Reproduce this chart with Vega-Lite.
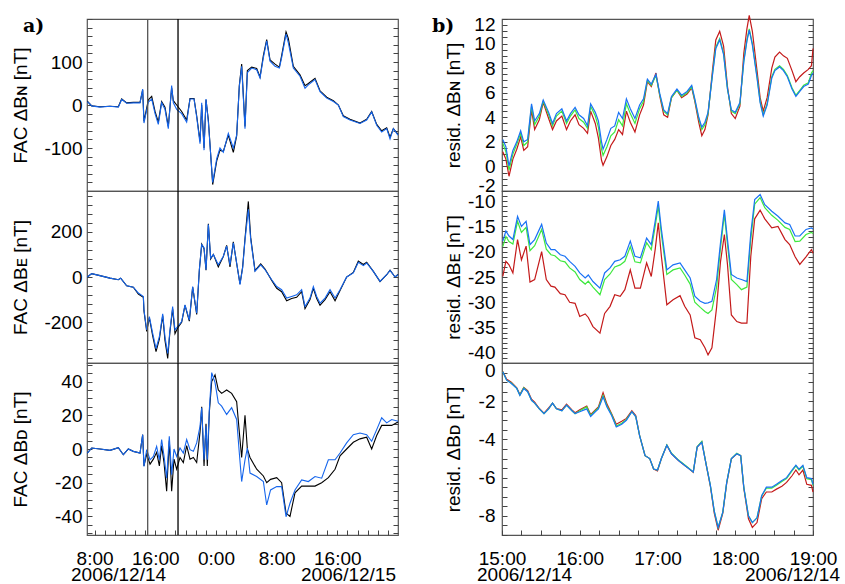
{
  "$schema": "https://vega.github.io/schema/vega-lite/v6.json",
  "background": "white",
  "autosize": {"type": "pad"},
  "padding": {"left": 10, "top": 9, "right": 2, "bottom": 0},
  "config": {
    "font": "Liberation Sans",
    "view": {"stroke": "#555", "strokeWidth": 1.2},
    "axis": {"domain": false, "grid": false, "labelFont": "Liberation Sans", "labelFontSize": 19, "labelColor": "#000", "titleFont": "Liberation Sans", "titleFontSize": 19, "titleFontWeight": "normal", "titleColor": "#000", "tickColor": "#444", "tickSize": -5, "tickWidth": 1, "labelOverlap": false, "labelFlush": false}
  },
  "datasets": {
    "lN": [{"h":7.04,"b":8,"k":9},{"h":7.62,"b":-2,"k":-2},{"h":8.71,"b":-5,"k":-4},{"h":10.03,"b":-3,"k":-3},{"h":11.13,"b":-5,"k":-4},{"h":11.57,"b":13,"k":14},{"h":12.23,"b":4,"k":5},{"h":13.11,"b":5,"k":6},{"h":13.99,"b":5,"k":6},{"h":14.34,"b":37,"k":35},{"h":14.51,"b":-42,"k":-38},{"h":15.09,"b":7,"k":12},{"h":15.53,"b":14,"k":20},{"h":15.97,"b":-20,"k":-15},{"h":16.4,"b":-45,"k":-40},{"h":16.84,"b":5,"k":8},{"h":17.28,"b":-10,"k":-5},{"h":17.72,"b":-55,"k":-50},{"h":18.16,"b":45,"k":40},{"h":18.38,"b":5,"k":10},{"h":18.82,"b":-10,"k":0},{"h":19.48,"b":-20,"k":-15},{"h":20.14,"b":-40,"k":-35},{"h":20.58,"b":14,"k":15},{"h":21.11,"b":14,"k":15},{"h":21.46,"b":-28,"k":-25},{"h":21.9,"b":-90,"k":-85},{"h":22.12,"b":5,"k":0},{"h":22.43,"b":-105,"k":-100},{"h":22.69,"b":14,"k":12},{"h":23.0,"b":-40,"k":-35},{"h":23.57,"b":-180,"k":-185},{"h":24.1,"b":-125,"k":-130},{"h":24.53,"b":-100,"k":-105},{"h":24.97,"b":-110,"k":-108},{"h":25.63,"b":-66,"k":-70},{"h":26.29,"b":-100,"k":-110},{"h":26.73,"b":-70,"k":-72},{"h":27.08,"b":43,"k":45},{"h":27.39,"b":90,"k":95},{"h":27.83,"b":-55,"k":-50},{"h":28.14,"b":75,"k":80},{"h":28.71,"b":86,"k":88},{"h":29.37,"b":82,"k":85},{"h":29.81,"b":63,"k":65},{"h":30.25,"b":110,"k":115},{"h":30.69,"b":149,"k":152},{"h":31.13,"b":102,"k":105},{"h":31.79,"b":90,"k":95},{"h":32.36,"b":86,"k":88},{"h":32.66,"b":110,"k":115},{"h":33.24,"b":165,"k":170},{"h":33.54,"b":145,"k":155},{"h":34.2,"b":86,"k":90},{"h":35.08,"b":67,"k":70},{"h":35.74,"b":39,"k":45},{"h":36.18,"b":47,"k":50},{"h":37.06,"b":59,"k":62},{"h":37.72,"b":31,"k":33},{"h":38.6,"b":16,"k":18},{"h":39.48,"b":8,"k":10},{"h":40.14,"b":0,"k":0},{"h":40.79,"b":-27,"k":-25},{"h":41.67,"b":-35,"k":-33},{"h":42.99,"b":-43,"k":-42},{"h":43.87,"b":-35,"k":-33},{"h":44.53,"b":-16,"k":-15},{"h":45.19,"b":-47,"k":-45},{"h":45.85,"b":-63,"k":-60},{"h":46.51,"b":-55,"k":-53},{"h":46.95,"b":-79,"k":-75},{"h":47.39,"b":-55,"k":-55},{"h":48.0,"b":-70,"k":-68}],
    "lE": [{"h":7.04,"b":0,"k":0},{"h":7.62,"b":15,"k":15},{"h":8.71,"b":6,"k":6},{"h":10.03,"b":-5,"k":-5},{"h":11.13,"b":-12,"k":-12},{"h":11.44,"b":-5,"k":-5},{"h":12.23,"b":-39,"k":-39},{"h":13.11,"b":-45,"k":-45},{"h":13.77,"b":-71,"k":-75},{"h":14.43,"b":-86,"k":-90},{"h":14.51,"b":-145,"k":-150},{"h":14.87,"b":-234,"k":-240},{"h":15.22,"b":-175,"k":-180},{"h":15.66,"b":-249,"k":-260},{"h":16.1,"b":-316,"k":-330},{"h":16.54,"b":-264,"k":-275},{"h":16.98,"b":-163,"k":-170},{"h":17.28,"b":-264,"k":-280},{"h":17.64,"b":-338,"k":-360},{"h":17.94,"b":-234,"k":-240},{"h":18.29,"b":-131,"k":-140},{"h":18.6,"b":-234,"k":-250},{"h":18.95,"b":-219,"k":-225},{"h":19.48,"b":-197,"k":-200},{"h":19.92,"b":-123,"k":-125},{"h":20.49,"b":-190,"k":-195},{"h":20.93,"b":-42,"k":-45},{"h":21.46,"b":-160,"k":-165},{"h":21.81,"b":32,"k":30},{"h":22.12,"b":143,"k":145},{"h":22.43,"b":129,"k":125},{"h":22.69,"b":32,"k":30},{"h":23.0,"b":232,"k":235},{"h":23.3,"b":84,"k":80},{"h":23.66,"b":99,"k":100},{"h":24.31,"b":54,"k":45},{"h":24.97,"b":92,"k":90},{"h":25.41,"b":136,"k":140},{"h":25.85,"b":54,"k":45},{"h":26.29,"b":151,"k":155},{"h":26.73,"b":62,"k":60},{"h":27.17,"b":-34,"k":-30},{"h":27.52,"b":40,"k":45},{"h":27.83,"b":163,"k":170},{"h":28.27,"b":299,"k":334},{"h":28.58,"b":166,"k":175},{"h":29.15,"b":25,"k":28},{"h":29.9,"b":54,"k":58},{"h":30.47,"b":32,"k":35},{"h":31.35,"b":-12,"k":-15},{"h":32.01,"b":-42,"k":-50},{"h":32.66,"b":-56,"k":-65},{"h":33.32,"b":-93,"k":-105},{"h":33.98,"b":-86,"k":-95},{"h":34.64,"b":-79,"k":-90},{"h":35.3,"b":-56,"k":-65},{"h":35.74,"b":-130,"k":-140},{"h":36.4,"b":-93,"k":-100},{"h":36.84,"b":-42,"k":-50},{"h":37.28,"b":-86,"k":-95},{"h":37.72,"b":-116,"k":-125},{"h":38.38,"b":-93,"k":-100},{"h":39.04,"b":-56,"k":-65},{"h":39.7,"b":-93,"k":-105},{"h":40.36,"b":-56,"k":-60},{"h":41.23,"b":0,"k":0},{"h":42.11,"b":18,"k":20},{"h":42.77,"b":65,"k":70},{"h":43.43,"b":50,"k":55},{"h":43.87,"b":62,"k":65},{"h":44.75,"b":25,"k":25},{"h":45.63,"b":-19,"k":-20},{"h":46.51,"b":10,"k":10},{"h":46.95,"b":29,"k":30},{"h":47.61,"b":0,"k":0},{"h":48.0,"b":10,"k":12}],
    "lD": [{"h":7.04,"b":-2.4,"k":-2.4},{"h":7.62,"b":0.6,"k":0.6},{"h":8.71,"b":0,"k":0},{"h":10.03,"b":-0.8,"k":-0.8},{"h":11.13,"b":0.8,"k":0.8},{"h":11.79,"b":-3.4,"k":-3.4},{"h":12.45,"b":0,"k":0},{"h":13.11,"b":-1.4,"k":-1.4},{"h":13.99,"b":-2.4,"k":-2.4},{"h":14.34,"b":8.5,"k":8.5},{"h":14.51,"b":-10.3,"k":-10},{"h":14.87,"b":-0.4,"k":-3},{"h":15.31,"b":-6.4,"k":-9},{"h":15.75,"b":-4.4,"k":-6},{"h":16.18,"b":1.6,"k":-2},{"h":16.54,"b":-6.4,"k":-10},{"h":16.84,"b":5.6,"k":2},{"h":17.15,"b":-4,"k":-8},{"h":17.5,"b":-17.3,"k":-25},{"h":17.85,"b":7.5,"k":5},{"h":18.16,"b":-15.3,"k":-25},{"h":18.47,"b":0,"k":-6},{"h":18.82,"b":-4.4,"k":-12},{"h":19.26,"b":0.6,"k":-5},{"h":19.7,"b":-2.4,"k":-8},{"h":20.14,"b":5.6,"k":2},{"h":20.58,"b":-0.4,"k":-6},{"h":21.02,"b":-1.4,"k":-5},{"h":21.46,"b":3.6,"k":-8},{"h":21.9,"b":13.5,"k":10},{"h":22.12,"b":24.5,"k":25},{"h":22.43,"b":-6.4,"k":-10},{"h":22.69,"b":13.5,"k":15},{"h":22.86,"b":-6.4,"k":-10},{"h":23.13,"b":23.5,"k":22},{"h":23.44,"b":45.3,"k":40},{"h":23.88,"b":39.4,"k":44},{"h":24.31,"b":27.4,"k":35},{"h":24.75,"b":25.4,"k":33},{"h":25.41,"b":20.5,"k":35},{"h":26.07,"b":24.5,"k":33},{"h":26.73,"b":17.5,"k":28},{"h":27.08,"b":-2.4,"k":10},{"h":27.39,"b":-19.3,"k":-5},{"h":27.83,"b":-6.4,"k":20},{"h":28.14,"b":0.6,"k":0},{"h":28.49,"b":-14.3,"k":-5},{"h":29.37,"b":-16.3,"k":-12},{"h":30.25,"b":-19.3,"k":-16},{"h":30.69,"b":-33.2,"k":-20},{"h":31.2,"b":-24.3,"k":-18},{"h":32.01,"b":-22.3,"k":-17},{"h":32.66,"b":-22.3,"k":-20},{"h":33.24,"b":-40.2,"k":-38},{"h":33.76,"b":-32.2,"k":-40},{"h":34.42,"b":-24.3,"k":-26},{"h":35.3,"b":-18.3,"k":-22},{"h":36.18,"b":-19.3,"k":-22},{"h":37.06,"b":-16.3,"k":-22},{"h":37.94,"b":-17.3,"k":-20},{"h":38.82,"b":-6.4,"k":-17},{"h":39.7,"b":-6.4,"k":-12},{"h":40.36,"b":-2.4,"k":-4},{"h":41.23,"b":3.6,"k":0},{"h":42.11,"b":8.5,"k":4},{"h":42.99,"b":9.5,"k":6},{"h":43.87,"b":8.5,"k":7},{"h":44.53,"b":4.6,"k":0},{"h":45.19,"b":11.5,"k":8},{"h":45.85,"b":18.5,"k":14},{"h":46.51,"b":15.5,"k":14},{"h":47.17,"b":17.5,"k":14},{"h":48.0,"b":16.5,"k":16}],
    "rN": [{"h":15.01,"r":1.2,"g":1.9,"b":2.2},{"h":15.05,"r":0.6,"g":1.2,"b":1.6},{"h":15.09,"r":-0.8,"g":-0.3,"b":0.05},{"h":15.14,"r":0.6,"g":1.0,"b":1.3},{"h":15.19,"r":1.4,"g":1.8,"b":2.0},{"h":15.24,"r":2.4,"g":2.7,"b":2.9},{"h":15.28,"r":1.3,"g":1.7,"b":2.0},{"h":15.33,"r":1.6,"g":2.0,"b":2.2},{"h":15.38,"r":4.6,"g":4.9,"b":5.1},{"h":15.42,"r":3.0,"g":3.4,"b":3.7},{"h":15.48,"r":3.8,"g":4.1,"b":4.3},{"h":15.53,"r":5.2,"g":5.3,"b":5.4},{"h":15.6,"r":3.9,"g":4.2,"b":4.4},{"h":15.65,"r":3.0,"g":3.3,"b":3.5},{"h":15.7,"r":3.7,"g":4.1,"b":4.3},{"h":15.77,"r":4.1,"g":4.5,"b":4.7},{"h":15.83,"r":3.0,"g":3.5,"b":3.7},{"h":15.88,"r":3.7,"g":4.1,"b":4.3},{"h":15.94,"r":4.2,"g":4.6,"b":4.8},{"h":15.99,"r":3.4,"g":3.9,"b":4.2},{"h":16.05,"r":3.1,"g":3.6,"b":3.9},{"h":16.1,"r":2.7,"g":3.1,"b":3.3},{"h":16.14,"r":4.5,"g":4.9,"b":5.1},{"h":16.2,"r":3.5,"g":4.1,"b":4.4},{"h":16.24,"r":2.3,"g":3.2,"b":3.7},{"h":16.28,"r":0.5,"g":1.4,"b":2.0},{"h":16.3,"r":0.1,"g":0.9,"b":1.4},{"h":16.35,"r":0.8,"g":1.6,"b":2.2},{"h":16.4,"r":1.7,"g":2.5,"b":3.1},{"h":16.45,"r":2.2,"g":2.8,"b":3.3},{"h":16.5,"r":3.0,"g":3.8,"b":4.4},{"h":16.55,"r":2.6,"g":3.3,"b":3.9},{"h":16.6,"r":4.5,"g":5.1,"b":5.5},{"h":16.65,"r":3.6,"g":4.3,"b":4.7},{"h":16.71,"r":2.8,"g":3.5,"b":3.9},{"h":16.77,"r":4.2,"g":4.7,"b":5.0},{"h":16.82,"r":5.0,"g":5.3,"b":5.5},{"h":16.87,"r":6.9,"g":7.0,"b":7.1},{"h":16.92,"r":6.5,"g":6.6,"b":6.7},{"h":16.98,"r":7.6,"g":7.4,"b":7.5},{"h":17.03,"r":5.7,"g":5.8,"b":5.9},{"h":17.08,"r":4.2,"g":4.5,"b":4.6},{"h":17.13,"r":4.0,"g":4.2,"b":4.3},{"h":17.18,"r":5.6,"g":5.6,"b":5.7},{"h":17.25,"r":6.2,"g":6.2,"b":6.3},{"h":17.31,"r":5.6,"g":5.7,"b":5.8},{"h":17.38,"r":5.9,"g":6.0,"b":6.1},{"h":17.44,"r":6.4,"g":6.5,"b":6.6},{"h":17.48,"r":5.3,"g":5.4,"b":5.5},{"h":17.53,"r":3.6,"g":3.9,"b":4.0},{"h":17.57,"r":2.5,"g":3.0,"b":3.2},{"h":17.61,"r":3.0,"g":3.4,"b":3.6},{"h":17.65,"r":4.2,"g":4.3,"b":4.4},{"h":17.71,"r":8.0,"g":7.7,"b":7.6},{"h":17.75,"r":10.3,"g":9.7,"b":9.6},{"h":17.8,"r":11.0,"g":10.4,"b":10.3},{"h":17.85,"r":9.8,"g":9.2,"b":9.1},{"h":17.9,"r":6.5,"g":6.3,"b":6.3},{"h":17.95,"r":4.3,"g":4.5,"b":4.6},{"h":18.0,"r":3.9,"g":4.3,"b":4.4},{"h":18.06,"r":4.9,"g":5.1,"b":5.2},{"h":18.11,"r":9.2,"g":8.6,"b":8.5},{"h":18.15,"r":11.2,"g":10.3,"b":10.2},{"h":18.18,"r":12.3,"g":11.2,"b":11.1},{"h":18.22,"r":11.0,"g":10.0,"b":9.9},{"h":18.28,"r":7.8,"g":7.3,"b":7.2},{"h":18.32,"r":5.6,"g":5.3,"b":5.2},{"h":18.36,"r":4.5,"g":4.2,"b":4.1},{"h":18.41,"r":5.6,"g":5.1,"b":5.0},{"h":18.47,"r":8.0,"g":7.3,"b":7.2},{"h":18.51,"r":8.9,"g":7.9,"b":7.8},{"h":18.57,"r":9.3,"g":8.2,"b":8.1},{"h":18.62,"r":9.0,"g":7.9,"b":7.8},{"h":18.67,"r":8.8,"g":7.4,"b":7.3},{"h":18.73,"r":7.8,"g":6.4,"b":6.3},{"h":18.78,"r":6.9,"g":5.8,"b":5.7},{"h":18.83,"r":7.3,"g":6.2,"b":6.1},{"h":18.88,"r":7.6,"g":6.6,"b":6.5},{"h":18.94,"r":7.9,"g":6.8,"b":6.7},{"h":18.98,"r":8.2,"g":7.6,"b":7.4},{"h":19.0,"r":9.6,"g":7.8,"b":7.6}],
    "rE": [{"h":15.01,"r":-24.9,"g":-19.0,"b":-17.9},{"h":15.05,"r":-21.9,"g":-17.0,"b":-15.9},{"h":15.09,"r":-22.6,"g":-18.0,"b":-16.9},{"h":15.14,"r":-24.2,"g":-18.5,"b":-17.6},{"h":15.2,"r":-17.6,"g":-14.0,"b":-13.0},{"h":15.25,"r":-21.6,"g":-16.2,"b":-15.0},{"h":15.31,"r":-18.9,"g":-15.2,"b":-14.0},{"h":15.36,"r":-26.0,"g":-19.8,"b":-18.6},{"h":15.42,"r":-25.5,"g":-18.8,"b":-17.6},{"h":15.51,"r":-20.0,"g":-15.6,"b":-14.6},{"h":15.57,"r":-25.5,"g":-19.5,"b":-18.3},{"h":15.63,"r":-26.8,"g":-20.6,"b":-19.6},{"h":15.68,"r":-27.0,"g":-20.8,"b":-19.6},{"h":15.75,"r":-28.3,"g":-21.8,"b":-20.6},{"h":15.81,"r":-28.5,"g":-22.0,"b":-20.9},{"h":15.87,"r":-30.0,"g":-23.2,"b":-21.9},{"h":15.94,"r":-30.2,"g":-24.0,"b":-22.9},{"h":16.0,"r":-32.8,"g":-25.5,"b":-24.2},{"h":16.07,"r":-32.3,"g":-26.4,"b":-25.2},{"h":16.11,"r":-33.0,"g":-25.8,"b":-24.6},{"h":16.17,"r":-34.8,"g":-27.0,"b":-25.9},{"h":16.26,"r":-36.1,"g":-28.5,"b":-27.2},{"h":16.32,"r":-32.2,"g":-25.5,"b":-24.2},{"h":16.39,"r":-30.8,"g":-24.4,"b":-23.2},{"h":16.45,"r":-28.5,"g":-23.0,"b":-21.9},{"h":16.52,"r":-28.8,"g":-22.6,"b":-21.6},{"h":16.58,"r":-27.5,"g":-21.9,"b":-20.9},{"h":16.65,"r":-23.6,"g":-19.0,"b":-17.9},{"h":16.71,"r":-27.2,"g":-22.0,"b":-20.9},{"h":16.78,"r":-27.2,"g":-22.2,"b":-21.2},{"h":16.86,"r":-22.2,"g":-18.2,"b":-17.3},{"h":16.92,"r":-24.9,"g":-19.6,"b":-18.6},{"h":16.97,"r":-19.6,"g":-15.0,"b":-14.0},{"h":17.01,"r":-14.3,"g":-11.0,"b":-10.0},{"h":17.05,"r":-20.9,"g":-16.6,"b":-15.6},{"h":17.12,"r":-30.5,"g":-24.5,"b":-23.6},{"h":17.2,"r":-29.5,"g":-23.6,"b":-22.6},{"h":17.29,"r":-28.7,"g":-23.2,"b":-22.2},{"h":17.35,"r":-30.8,"g":-24.6,"b":-23.6},{"h":17.42,"r":-32.5,"g":-26.4,"b":-25.2},{"h":17.48,"r":-37.0,"g":-30.0,"b":-28.8},{"h":17.55,"r":-37.4,"g":-31.0,"b":-29.8},{"h":17.61,"r":-39.0,"g":-31.8,"b":-30.2},{"h":17.65,"r":-40.4,"g":-32.2,"b":-30.1},{"h":17.7,"r":-39.0,"g":-31.5,"b":-29.8},{"h":17.76,"r":-31.0,"g":-27.0,"b":-25.5},{"h":17.81,"r":-22.0,"g":-19.3,"b":-18.3},{"h":17.86,"r":-16.6,"g":-12.6,"b":-11.7},{"h":17.9,"r":-22.5,"g":-18.6,"b":-17.6},{"h":17.95,"r":-32.5,"g":-25.5,"b":-24.5},{"h":18.02,"r":-33.8,"g":-26.5,"b":-25.2},{"h":18.08,"r":-34.1,"g":-27.5,"b":-25.5},{"h":18.15,"r":-34.1,"g":-27.0,"b":-25.9},{"h":18.2,"r":-20.9,"g":-17.5,"b":-16.3},{"h":18.25,"r":-13.5,"g":-10.6,"b":-9.7},{"h":18.32,"r":-11.8,"g":-9.3,"b":-8.7},{"h":18.38,"r":-13.5,"g":-11.3,"b":-10.7},{"h":18.47,"r":-15.3,"g":-12.8,"b":-12.0},{"h":18.55,"r":-15.0,"g":-13.8,"b":-13.0},{"h":18.64,"r":-17.6,"g":-15.2,"b":-14.3},{"h":18.7,"r":-18.6,"g":-15.6,"b":-14.6},{"h":18.77,"r":-21.0,"g":-18.0,"b":-16.9},{"h":18.83,"r":-22.5,"g":-17.9,"b":-16.9},{"h":18.91,"r":-21.0,"g":-16.6,"b":-15.6},{"h":18.98,"r":-19.6,"g":-16.2,"b":-15.3},{"h":19.0,"r":-20.3,"g":-16.4,"b":-15.5}],
    "rD": [{"h":15.01,"r":-0.45,"g":-0.46,"b":-0.46},{"h":15.06,"r":-0.85,"g":-0.9,"b":-0.9},{"h":15.12,"r":-1.0,"g":-1.05,"b":-1.07},{"h":15.19,"r":-1.3,"g":-1.33,"b":-1.33},{"h":15.23,"r":-1.65,"g":-1.68,"b":-1.7},{"h":15.28,"r":-1.28,"g":-1.3,"b":-1.33},{"h":15.33,"r":-1.45,"g":-1.5,"b":-1.5},{"h":15.38,"r":-1.9,"g":-1.95,"b":-1.95},{"h":15.42,"r":-2.05,"g":-2.1,"b":-2.1},{"h":15.48,"r":-2.38,"g":-2.4,"b":-2.4},{"h":15.54,"r":-2.62,"g":-2.65,"b":-2.65},{"h":15.6,"r":-2.35,"g":-2.4,"b":-2.4},{"h":15.65,"r":-2.1,"g":-2.1,"b":-2.1},{"h":15.7,"r":-2.38,"g":-2.4,"b":-2.4},{"h":15.77,"r":-2.45,"g":-2.5,"b":-2.5},{"h":15.83,"r":-2.15,"g":-2.2,"b":-2.2},{"h":15.9,"r":-2.45,"g":-2.5,"b":-2.5},{"h":15.94,"r":-2.6,"g":-2.65,"b":-2.65},{"h":16.0,"r":-2.45,"g":-2.5,"b":-2.55},{"h":16.09,"r":-2.25,"g":-2.3,"b":-2.4},{"h":16.14,"r":-2.7,"g":-2.75,"b":-2.8},{"h":16.2,"r":-2.45,"g":-2.5,"b":-2.55},{"h":16.24,"r":-2.3,"g":-2.35,"b":-2.4},{"h":16.3,"r":-1.55,"g":-1.7,"b":-1.77},{"h":16.35,"r":-2.15,"g":-2.25,"b":-2.3},{"h":16.41,"r":-2.65,"g":-2.7,"b":-2.75},{"h":16.47,"r":-3.2,"g":-3.3,"b":-3.35},{"h":16.54,"r":-3.05,"g":-3.15,"b":-3.2},{"h":16.6,"r":-2.9,"g":-2.95,"b":-3.0},{"h":16.67,"r":-2.5,"g":-2.55,"b":-2.55},{"h":16.72,"r":-2.75,"g":-2.8,"b":-2.8},{"h":16.77,"r":-3.8,"g":-3.8,"b":-3.8},{"h":16.84,"r":-4.85,"g":-4.85,"b":-4.85},{"h":16.9,"r":-5.0,"g":-5.0,"b":-5.0},{"h":16.95,"r":-5.55,"g":-5.55,"b":-5.55},{"h":17.0,"r":-5.65,"g":-5.6,"b":-5.6},{"h":17.05,"r":-5.0,"g":-5.0,"b":-5.0},{"h":17.12,"r":-4.3,"g":-4.28,"b":-4.3},{"h":17.18,"r":-4.75,"g":-4.72,"b":-4.75},{"h":17.27,"r":-5.1,"g":-5.08,"b":-5.1},{"h":17.38,"r":-5.45,"g":-5.43,"b":-5.45},{"h":17.46,"r":-5.72,"g":-5.7,"b":-5.7},{"h":17.51,"r":-4.4,"g":-4.38,"b":-4.4},{"h":17.57,"r":-4.12,"g":-4.1,"b":-4.15},{"h":17.63,"r":-5.4,"g":-5.4,"b":-5.4},{"h":17.68,"r":-6.45,"g":-6.4,"b":-6.4},{"h":17.73,"r":-7.85,"g":-7.75,"b":-7.75},{"h":17.78,"r":-8.75,"g":-8.6,"b":-8.6},{"h":17.84,"r":-7.85,"g":-7.8,"b":-7.8},{"h":17.89,"r":-6.3,"g":-6.25,"b":-6.25},{"h":17.95,"r":-5.02,"g":-5.0,"b":-5.0},{"h":18.02,"r":-4.75,"g":-4.72,"b":-4.75},{"h":18.07,"r":-4.85,"g":-4.85,"b":-4.85},{"h":18.11,"r":-6.55,"g":-6.5,"b":-6.5},{"h":18.17,"r":-8.15,"g":-8.0,"b":-8.0},{"h":18.22,"r":-8.6,"g":-8.35,"b":-8.35},{"h":18.28,"r":-8.35,"g":-8.1,"b":-8.1},{"h":18.34,"r":-7.1,"g":-6.95,"b":-6.95},{"h":18.4,"r":-6.75,"g":-6.55,"b":-6.5},{"h":18.47,"r":-6.75,"g":-6.55,"b":-6.5},{"h":18.53,"r":-6.6,"g":-6.4,"b":-6.35},{"h":18.6,"r":-6.45,"g":-6.2,"b":-6.15},{"h":18.66,"r":-6.25,"g":-6.05,"b":-6.0},{"h":18.73,"r":-5.9,"g":-5.65,"b":-5.6},{"h":18.78,"r":-5.6,"g":-5.38,"b":-5.35},{"h":18.82,"r":-5.85,"g":-5.6,"b":-5.55},{"h":18.87,"r":-5.6,"g":-5.4,"b":-5.35},{"h":18.92,"r":-6.35,"g":-6.05,"b":-6.0},{"h":18.98,"r":-6.4,"g":-6.1,"b":-6.05},{"h":19.0,"r":-6.75,"g":-6.4,"b":-6.35}]
  },
  "columns": 2,
  "spacing": {"row": 0, "column": 104},
  "bounds": "flush",
  "concat": [
    {
      "width": 311, "height": 172,
      "layer": [
        {
          "layer": [
            {"data": {"name": "lN"}, "mark": {"type": "line", "color": "#000", "strokeWidth": 1.1},
             "encoding": {"x": {"field": "h", "type": "quantitative", "scale": {"domain": [7, 48], "nice": false}, "axis": null},
                          "y": {"field": "k", "type": "quantitative", "scale": {"domain": [-200, 200], "nice": false},
                                "axis": {"title": "FAC ΔBɴ [nT]", "values": [-200,-180,-160,-140,-120,-100,-80,-60,-40,-20,0,20,40,60,80,100,120,140,160,180,200], "tickCount": 200, "labelExpr": "datum.value % 100 === 0 && abs(datum.value) < 200 ? '' + datum.value : ''", "labelOverlap": false, "labelPadding": 10, "minExtent": 45, "maxExtent": 45, "titlePadding": 12}}}},
            {"data": {"name": "lN"}, "mark": {"type": "line", "color": "#1565ec", "strokeWidth": 1.1},
             "encoding": {"x": {"field": "h", "type": "quantitative", "axis": null}, "y": {"field": "b", "type": "quantitative"}}},
            {"data": {"values": [{"h": 15}, {"h": 19}]}, "mark": {"type": "rule", "strokeWidth": 1.3},
             "encoding": {"x": {"field": "h", "type": "quantitative", "axis": null}, "color": {"condition": {"test": "datum.h === 15", "value": "#555"}, "value": "#000"}}},
            {"data": {"values": [{"lab": "a)"}]}, "mark": {"type": "text", "font": "DejaVu Serif", "fontWeight": "bold", "fontSize": 19, "align": "left", "baseline": "top", "dx": -64, "dy": -2},
             "encoding": {"x": {"datum": 7, "type": "quantitative", "axis": null}, "y": {"datum": 200, "type": "quantitative"}, "text": {"field": "lab"}}}
          ]
        },
        {"data": {"values": [{"v": 0}]}, "mark": {"type": "point", "opacity": 0},
         "encoding": {"y": {"field": "v", "type": "quantitative", "scale": {"domain": [-200, 200], "nice": false}, "axis": {"orient": "right", "labels": false, "title": null, "tickCount": 200, "values": [-180,-160,-140,-120,-100,-80,-60,-40,-20,0,20,40,60,80,100,120,140,160,180]}}}}
      ],
      "resolve": {"scale": {"y": "independent"}}
    },
    {
      "width": 311, "height": 172,
      "layer": [
        {
          "layer": [
            {"data": {"name": "rN"}, "mark": {"type": "line", "color": "#c41a1a", "strokeWidth": 1.2},
             "encoding": {"x": {"field": "h", "type": "quantitative", "scale": {"domain": [15, 19], "nice": false}, "axis": null},
                          "y": {"field": "r", "type": "quantitative", "scale": {"domain": [-2, 12], "nice": false},
                                "axis": {"title": "resid. ΔBɴ [nT]", "values": [-2,-1.5,-1,-0.5,0,0.5,1,1.5,2,2.5,3,3.5,4,4.5,5,5.5,6,6.5,7,7.5,8,8.5,9,9.5,10,10.5,11,11.5,12], "tickCount": 200, "labelExpr": "datum.value % 2 === 0 ? '' + datum.value : ''", "labelOverlap": false, "labelPadding": 12, "minExtent": 33, "maxExtent": 33, "titlePadding": 6, "labelFlush": 1, "labelFlushOffset": 4}}}},
            {"data": {"name": "rN"}, "mark": {"type": "line", "color": "#3ee83e", "strokeWidth": 1.2},
             "encoding": {"x": {"field": "h", "type": "quantitative", "axis": null}, "y": {"field": "g", "type": "quantitative"}}},
            {"data": {"name": "rN"}, "mark": {"type": "line", "color": "#1a72f5", "strokeWidth": 1.2},
             "encoding": {"x": {"field": "h", "type": "quantitative", "axis": null}, "y": {"field": "b", "type": "quantitative"}}},
            {"data": {"values": [{"lab": "b)"}]}, "mark": {"type": "text", "font": "DejaVu Serif", "fontWeight": "bold", "fontSize": 19, "align": "left", "baseline": "top", "dx": -70, "dy": -2},
             "encoding": {"x": {"datum": 15, "type": "quantitative", "axis": null}, "y": {"datum": 12, "type": "quantitative"}, "text": {"field": "lab"}}}
          ]
        },
        {"data": {"values": [{"v": 0}]}, "mark": {"type": "point", "opacity": 0},
         "encoding": {"y": {"field": "v", "type": "quantitative", "scale": {"domain": [-2, 12], "nice": false}, "axis": {"orient": "right", "labels": false, "title": null, "tickCount": 200, "values": [-1.5,-1,-0.5,0,0.5,1,1.5,2,2.5,3,3.5,4,4.5,5,5.5,6,6.5,7,7.5,8,8.5,9,9.5,10,10.5,11,11.5]}}}}
      ],
      "resolve": {"scale": {"y": "independent"}}
    },
    {
      "width": 311, "height": 172,
      "layer": [
        {
          "layer": [
            {"data": {"name": "lE"}, "mark": {"type": "line", "color": "#000", "strokeWidth": 1.1},
             "encoding": {"x": {"field": "h", "type": "quantitative", "scale": {"domain": [7, 48], "nice": false}, "axis": null},
                          "y": {"field": "k", "type": "quantitative", "scale": {"domain": [-380, 380], "nice": false},
                                "axis": {"title": "FAC ΔBᴇ [nT]", "values": [-360,-320,-280,-240,-200,-160,-120,-80,-40,0,40,80,120,160,200,240,280,320,360], "tickCount": 200, "labelExpr": "datum.value % 200 === 0 ? '' + datum.value : ''", "labelOverlap": false, "labelPadding": 10, "minExtent": 45, "maxExtent": 45, "titlePadding": 12}}}},
            {"data": {"name": "lE"}, "mark": {"type": "line", "color": "#1565ec", "strokeWidth": 1.1},
             "encoding": {"x": {"field": "h", "type": "quantitative", "axis": null}, "y": {"field": "b", "type": "quantitative"}}},
            {"data": {"values": [{"h": 15}, {"h": 19}]}, "mark": {"type": "rule", "strokeWidth": 1.3},
             "encoding": {"x": {"field": "h", "type": "quantitative", "axis": null}, "color": {"condition": {"test": "datum.h === 15", "value": "#555"}, "value": "#000"}}}
          ]
        },
        {"data": {"values": [{"v": 0}]}, "mark": {"type": "point", "opacity": 0},
         "encoding": {"y": {"field": "v", "type": "quantitative", "scale": {"domain": [-380, 380], "nice": false}, "axis": {"orient": "right", "labels": false, "title": null, "tickCount": 200, "values": [-360,-320,-280,-240,-200,-160,-120,-80,-40,0,40,80,120,160,200,240,280,320,360]}}}}
      ],
      "resolve": {"scale": {"y": "independent"}}
    },
    {
      "width": 311, "height": 172,
      "layer": [
        {
          "layer": [
            {"data": {"name": "rE"}, "mark": {"type": "line", "color": "#c41a1a", "strokeWidth": 1.2},
             "encoding": {"x": {"field": "h", "type": "quantitative", "scale": {"domain": [15, 19], "nice": false}, "axis": null},
                          "y": {"field": "r", "type": "quantitative", "scale": {"domain": [-42, -8], "nice": false},
                                "axis": {"title": "resid. ΔBᴇ [nT]", "values": [-42,-41,-40,-39,-38,-37,-36,-35,-34,-33,-32,-31,-30,-29,-28,-27,-26,-25,-24,-23,-22,-21,-20,-19,-18,-17,-16,-15,-14,-13,-12,-11,-10,-9,-8], "tickCount": 200, "labelExpr": "datum.value % 5 === 0 ? '' + datum.value : ''", "labelOverlap": false, "labelPadding": 12, "minExtent": 33, "maxExtent": 33, "titlePadding": 6}}}},
            {"data": {"name": "rE"}, "mark": {"type": "line", "color": "#3ee83e", "strokeWidth": 1.2},
             "encoding": {"x": {"field": "h", "type": "quantitative", "axis": null}, "y": {"field": "g", "type": "quantitative"}}},
            {"data": {"name": "rE"}, "mark": {"type": "line", "color": "#1a72f5", "strokeWidth": 1.2},
             "encoding": {"x": {"field": "h", "type": "quantitative", "axis": null}, "y": {"field": "b", "type": "quantitative"}}}
          ]
        },
        {"data": {"values": [{"v": -20}]}, "mark": {"type": "point", "opacity": 0},
         "encoding": {"y": {"field": "v", "type": "quantitative", "scale": {"domain": [-42, -8], "nice": false}, "axis": {"orient": "right", "labels": false, "title": null, "tickCount": 200, "values": [-41,-40,-39,-38,-37,-36,-35,-34,-33,-32,-31,-30,-29,-28,-27,-26,-25,-24,-23,-22,-21,-20,-19,-18,-17,-16,-15,-14,-13,-12,-11,-10,-9]}}}}
      ],
      "resolve": {"scale": {"y": "independent"}}
    },
    {
      "width": 311, "height": 172,
      "layer": [
        {
          "layer": [
            {"data": {"name": "lD"}, "mark": {"type": "line", "color": "#000", "strokeWidth": 1.1},
             "encoding": {"x": {"field": "h", "type": "quantitative", "scale": {"domain": [7, 48], "nice": false},
                                "axis": {"title": null, "values": [8,9.3333,10.6667,12,13.3333,14.6667,16,17.3333,18.6667,20,21.3333,22.6667,24,25.3333,26.6667,28,29.3333,30.6667,32,33.3333,34.6667,36,37.3333,38.6667,40,41.3333,42.6667,44,45.3333,46.6667], "tickCount": 200, "labelExpr": "datum.value % 8 === 0 ? (datum.value % 24) + ':00' : ''", "labelOverlap": false, "labelPadding": 19}},
                          "y": {"field": "k", "type": "quantitative", "scale": {"domain": [-51, 51], "nice": false},
                                "axis": {"title": "FAC ΔBᴅ [nT]", "values": [-50,-45,-40,-35,-30,-25,-20,-15,-10,-5,0,5,10,15,20,25,30,35,40,45,50], "tickCount": 200, "labelExpr": "datum.value % 20 === 0 ? '' + datum.value : ''", "labelOverlap": false, "labelPadding": 10, "minExtent": 45, "maxExtent": 45, "titlePadding": 12}}}},
            {"data": {"name": "lD"}, "mark": {"type": "line", "color": "#1565ec", "strokeWidth": 1.1},
             "encoding": {"x": {"field": "h", "type": "quantitative"}, "y": {"field": "b", "type": "quantitative"}}},
            {"data": {"values": [{"h": 15}, {"h": 19}]}, "mark": {"type": "rule", "strokeWidth": 1.3},
             "encoding": {"x": {"field": "h", "type": "quantitative"}, "color": {"condition": {"test": "datum.h === 15", "value": "#555"}, "value": "#000"}}},
            {"data": {"values": [{"h": 7, "lab": "2006/12/14"}]}, "mark": {"type": "text", "fontSize": 19, "align": "left", "baseline": "alphabetic", "dx": -16, "dy": 46},
             "encoding": {"x": {"field": "h", "type": "quantitative"}, "y": {"datum": -51, "type": "quantitative"}, "text": {"field": "lab"}}},
            {"data": {"values": [{"h": 48, "lab": "2006/12/15"}]}, "mark": {"type": "text", "fontSize": 19, "align": "right", "baseline": "alphabetic", "dx": -2, "dy": 46},
             "encoding": {"x": {"field": "h", "type": "quantitative"}, "y": {"datum": -51, "type": "quantitative"}, "text": {"field": "lab"}}}
          ]
        },
        {"data": {"values": [{"v": 0}]}, "mark": {"type": "point", "opacity": 0},
         "encoding": {"y": {"field": "v", "type": "quantitative", "scale": {"domain": [-51, 51], "nice": false}, "axis": {"orient": "right", "labels": false, "title": null, "tickCount": 200, "values": [-50,-45,-40,-35,-30,-25,-20,-15,-10,-5,0,5,10,15,20,25,30,35,40,45,50]}}}}
      ],
      "resolve": {"scale": {"y": "independent"}}
    },
    {
      "width": 311, "height": 172,
      "layer": [
        {
          "layer": [
            {"data": {"name": "rD"}, "mark": {"type": "line", "color": "#c41a1a", "strokeWidth": 1.2},
             "encoding": {"x": {"field": "h", "type": "quantitative", "scale": {"domain": [15, 19], "nice": false},
                                "axis": {"title": null, "values": [15,15.25,15.5,15.75,16,16.25,16.5,16.75,17,17.25,17.5,17.75,18,18.25,18.5,18.75,19], "tickCount": 200, "labelExpr": "datum.value % 1 === 0 ? datum.value + ':00' : ''", "labelOverlap": false, "labelPadding": 19}},
                          "y": {"field": "r", "type": "quantitative", "scale": {"domain": [-9, 0], "nice": false},
                                "axis": {"title": "resid. ΔBᴅ [nT]", "values": [-9,-8.5,-8,-7.5,-7,-6.5,-6,-5.5,-5,-4.5,-4,-3.5,-3,-2.5,-2,-1.5,-1,-0.5,0], "tickCount": 200, "labelExpr": "datum.value % 2 === 0 ? '' + datum.value : ''", "labelOverlap": false, "labelPadding": 12, "minExtent": 33, "maxExtent": 33, "titlePadding": 6, "labelFlush": 1, "labelFlushOffset": 2}}}},
            {"data": {"name": "rD"}, "mark": {"type": "line", "color": "#3ee83e", "strokeWidth": 1.2},
             "encoding": {"x": {"field": "h", "type": "quantitative"}, "y": {"field": "g", "type": "quantitative"}}},
            {"data": {"name": "rD"}, "mark": {"type": "line", "color": "#1a72f5", "strokeWidth": 1.2},
             "encoding": {"x": {"field": "h", "type": "quantitative"}, "y": {"field": "b", "type": "quantitative"}}},
            {"data": {"values": [{"h": 15, "lab": "2006/12/14"}]}, "mark": {"type": "text", "fontSize": 19, "align": "left", "baseline": "alphabetic", "dx": -25, "dy": 46},
             "encoding": {"x": {"field": "h", "type": "quantitative"}, "y": {"datum": -9, "type": "quantitative"}, "text": {"field": "lab"}}},
            {"data": {"values": [{"h": 19, "lab": "2006/12/14"}]}, "mark": {"type": "text", "fontSize": 19, "align": "right", "baseline": "alphabetic", "dx": 27, "dy": 46},
             "encoding": {"x": {"field": "h", "type": "quantitative"}, "y": {"datum": -9, "type": "quantitative"}, "text": {"field": "lab"}}}
          ]
        },
        {"data": {"values": [{"v": -4}]}, "mark": {"type": "point", "opacity": 0},
         "encoding": {"y": {"field": "v", "type": "quantitative", "scale": {"domain": [-9, 0], "nice": false}, "axis": {"orient": "right", "labels": false, "title": null, "tickCount": 200, "values": [-8.5,-8,-7.5,-7,-6.5,-6,-5.5,-5,-4.5,-4,-3.5,-3,-2.5,-2,-1.5,-1,-0.5]}}}}
      ],
      "resolve": {"scale": {"y": "independent"}}
    }
  ]
}
